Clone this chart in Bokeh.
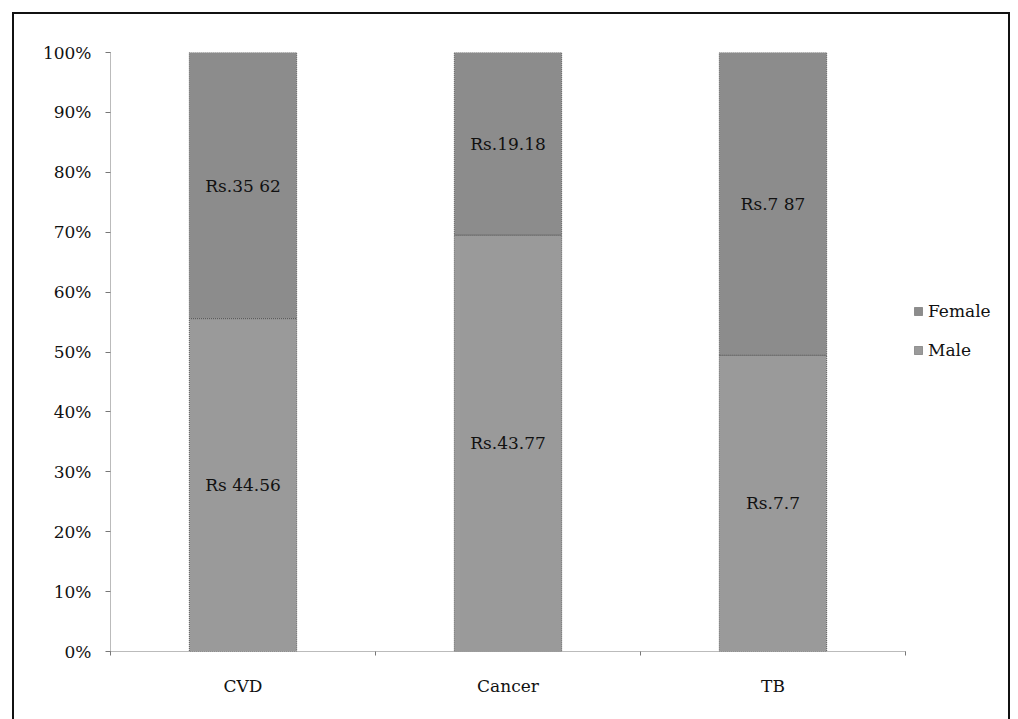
import numpy as np
from bokeh.plotting import figure
from bokeh.models import ColumnDataSource, FixedTicker, PrintfTickFormatter, Legend, LegendItem, Range1d
from bokeh.core.properties import value
from bokeh.embed import file_html
from bokeh.resources import INLINE

categories = ["CVD", "Cancer", "TB"]
male = [44.56, 43.77, 7.7]
female = [35.62, 19.18, 7.87]
male_labels = ["Rs 44.56", "Rs.43.77", "Rs.7.7"]
female_labels = ["Rs.35 62", "Rs.19.18", "Rs.7 87"]
y_ticks = [0, 10, 20, 30, 40, 50, 60, 70, 80, 90, 100]

FONT = "DejaVu Serif"

m = np.array(male)
f = np.array(female)
tot = m + f
m_pct = m / tot * 100
f_pct = f / tot * 100
xs = np.arange(len(categories)) + 0.5

src = ColumnDataSource(dict(
    x=xs, m0=np.zeros(len(xs)), m1=m_pct, f0=m_pct, f1=m_pct + f_pct,
    mmid=m_pct / 2, fmid=m_pct + f_pct / 2,
    ml=male_labels, fl=female_labels,
))

AXIS_PX = 795      # pixel width of the category axis
FRAME_PX = 898     # frame extends to the right to hold the legend
n = len(categories)

p = figure(frame_width=FRAME_PX, frame_height=599, output_backend="svg", toolbar_location=None,
           x_range=Range1d(0, n * FRAME_PX / AXIS_PX), y_range=Range1d(0, 100),
           min_border_left=96, min_border_top=38, min_border_bottom=68, min_border_right=0)
p.styles = {"border-top": "2px solid #111", "border-left": "2px solid #111",
            "border-right": "2px solid #111", "margin-left": "12px", "margin-top": "12px"}
p.outline_line_color = None
p.xgrid.visible = False
p.ygrid.visible = False
p.background_fill_color = "white"
p.border_fill_color = "white"

bw = 0.405
rm = p.vbar(x="x", bottom="m0", top="m1", width=bw, source=src,
            fill_color="#9a9a9a", line_color="#555555", line_dash="1 1", line_width=1)
rf = p.vbar(x="x", bottom="f0", top="f1", width=bw, source=src,
            fill_color="#8c8c8c", line_color="#555555", line_dash="1 1", line_width=1)

for col_y, col_t in (("mmid", "ml"), ("fmid", "fl")):
    p.text(x="x", y=col_y, text=col_t, source=src, text_align="center",
           text_baseline="middle", text_font=value(FONT), text_font_size="17px",
           text_color="#111111")

# y axis
p.yaxis.ticker = FixedTicker(ticks=y_ticks)
p.yaxis.formatter = PrintfTickFormatter(format="%d%%")
p.yaxis.axis_line_color = "#777777"
p.yaxis.axis_line_dash = "1 1"
p.yaxis.major_tick_line_color = "#777777"
p.yaxis.major_tick_out = 5
p.yaxis.major_tick_in = 0
p.yaxis.minor_tick_line_color = None
p.yaxis.major_label_text_font = FONT
p.yaxis.major_label_text_font_size = "17px"
p.yaxis.major_label_text_color = "#111111"
p.yaxis.major_label_standoff = 14

# x axis
p.xaxis.bounds = (0, n)
p.xaxis.ticker = FixedTicker(ticks=list(xs), minor_ticks=list(range(n + 1)))
p.xaxis.major_label_overrides = {float(x): c for x, c in zip(xs, categories)}
p.xaxis.major_tick_line_color = None
p.xaxis.minor_tick_line_color = "#777777"
p.xaxis.minor_tick_out = 4
p.xaxis.minor_tick_in = 0
p.xaxis.axis_line_color = "#777777"
p.xaxis.axis_line_dash = "1 1"
p.xaxis.major_label_text_font = FONT
p.xaxis.major_label_text_font_size = "17px"
p.xaxis.major_label_text_color = "#111111"
p.xaxis.major_label_standoff = 18

legend = Legend(items=[LegendItem(label="Female", renderers=[rf]),
                       LegendItem(label="Male", renderers=[rm])],
                location=(803, 291), label_text_font=FONT, label_text_font_size="17px",
                label_text_color="#111111", glyph_width=10, glyph_height=10,
                spacing=19, border_line_color=None, background_fill_alpha=0,
                padding=0, margin=0, label_standoff=5)
p.add_layout(legend, "center")

open("out.html", "w").write(file_html(p, INLINE))
